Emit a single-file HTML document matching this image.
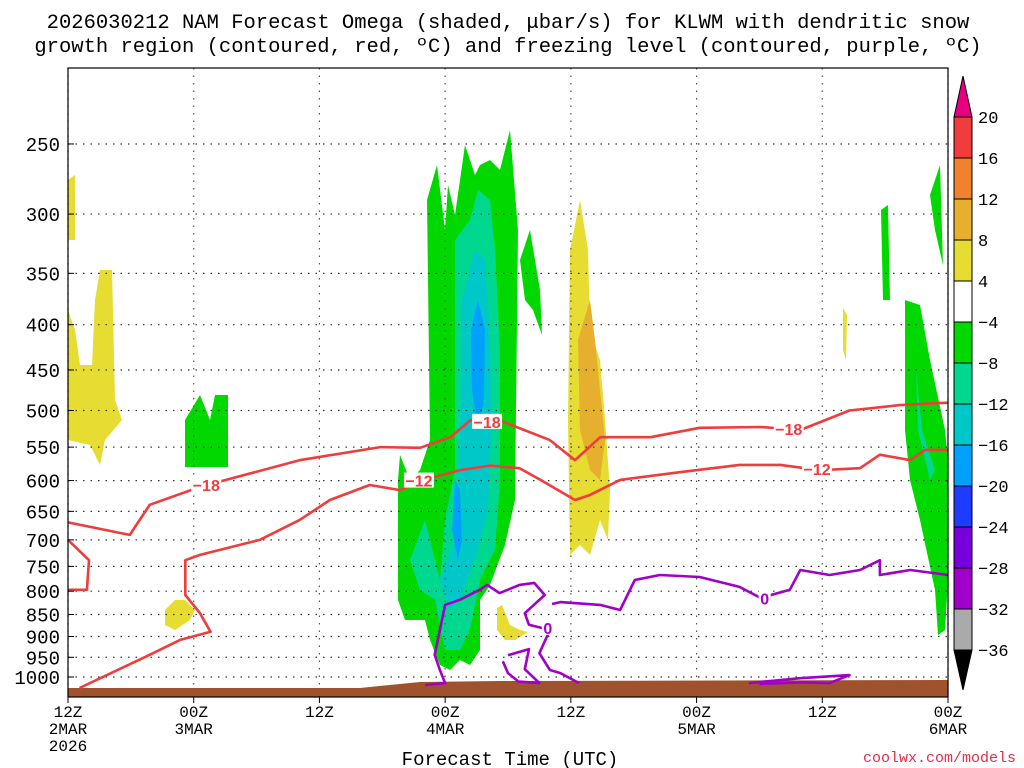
<!DOCTYPE html>
<html><head><meta charset="utf-8"><style>
body{margin:0;background:#fff;}
svg{display:block;font-family:"Liberation Sans","DejaVu Sans",sans-serif;}
</style></head><body>
<svg id="c" width="1024" height="768" viewBox="0 0 1024 768">
<g font-family="Liberation Mono, monospace" font-size="20.5" text-anchor="middle" fill="#000">
<text x="508" y="28">2026030212 NAM Forecast Omega (shaded, μbar/s) for KLWM with dendritic snow</text>
<text x="508" y="52">growth region (contoured, red, ºC) and freezing level (contoured, purple, ºC)</text>
</g>
<g id="shade">
<polygon fill="#00d800" points="400,455 410,480 420,470 430,440 427,200 437,165 445,230 448,185 455,215 465,145 475,175 480,165 490,160 500,170 510,130 518,230 515,500 505,545 490,585 480,600 480,650 470,665 460,660 450,670 440,665 430,640 425,620 405,620 398,600 398,480"/>
<polygon fill="#00d800" points="520,260 530,230 540,290 542,335 533,310 525,300"/>
<polygon fill="#00d800" points="185,420 200,395 210,420 215,395 228,395 228,467 185,467 185,440"/>
<polygon fill="#00d800" points="905,300 920,305 930,360 945,430 948,460 948,580 945,630 938,635 935,590 920,520 910,480 905,430"/>
<polygon fill="#00d800" points="881,210 888,205 890,300 883,300"/>
<polygon fill="#00d800" points="930,195 940,165 943,265 935,230"/>
<polygon fill="#00d890" points="440,580 445,520 455,470 455,240 470,220 478,190 490,200 495,250 500,350 500,480 495,550 480,580 470,630 460,650 445,650 435,600 420,590 410,560 425,520"/>
<polygon fill="#00d890" points="916,370 922,430 935,470 930,480 918,430"/>
<polygon fill="#00c8c8" points="455,540 460,440 462,300 475,250 485,260 490,330 492,420 488,510 475,560 460,600 450,610 440,580"/>
<polygon fill="#00a0ff" points="471,330 478,300 485,330 484,400 478,430 472,390"/>
<polygon fill="#00a0ff" points="455,480 460,490 462,540 458,560 452,530"/>
<polygon fill="#e6dc32" points="68,180 75,175 75,240 68,240"/>
<polygon fill="#e6dc32" points="68,310 75,330 80,365 92,365 95,300 100,270 112,270 115,400 122,420 105,440 100,465 90,445 68,440"/>
<polygon fill="#e6dc32" points="570,250 580,200 588,250 590,330 600,360 605,420 610,490 608,540 600,520 590,555 580,545 570,555 568,420"/>
<polygon fill="#e6af2d" points="590,300 595,340 600,390 605,440 600,480 590,470 580,430 578,340"/>
<polygon fill="#e6dc32" points="165,610 175,600 185,600 195,610 190,620 175,630 165,625"/>
<polygon fill="#e6dc32" points="497,608 502,605 510,625 520,630 528,632 515,640 505,640 497,630"/>
<polygon fill="#e6dc32" points="843,308 847,315 846,360 843,350"/>
</g>
<g id="grid"></g>
<polygon fill="#a0522d" points="68,688 360,688 420,682 500,681 948,680 948,697 68,697"/>
<g id="lines"></g>
<rect x="68" y="68" width="880" height="629" fill="none" stroke="#000" stroke-width="1.2"/>
<g id="axes"></g>
<g id="cbar"></g>
<text x="510" y="765" font-size="19" text-anchor="middle" font-family="Liberation Mono, monospace">Forecast Time (UTC)</text>
<text x="1016" y="762" font-size="15" text-anchor="end" fill="#e0304a" font-family="Liberation Mono, monospace">coolwx.com/models</text>
</svg>
<script>
const pressureTicks=[250,300,350,400,450,500,550,600,650,700,750,800,850,900,950,1000];
const timeTickHours=[0,12,24,36,48,60,72,84];
const timeTickLabels=[["12Z","2MAR","2026"],["00Z","3MAR"],["12Z"],["00Z","4MAR"],["12Z"],["00Z","5MAR"],["12Z"],["00Z","6MAR"]];
const cbarLevels=[20,16,12,8,4,-4,-8,-12,-16,-20,-24,-28,-32,-36];
const cbarColors=["#f03c3c","#f0822d","#e6af2d","#e6dc32","#ffffff","#00d800","#00d890","#00c8c8","#00a0ff","#1e3cff","#7800dc","#a000c8","#aaaaaa"];
// contour lines [hour, hPa]
const redUpper=[[0,669],[5.9,691],[7.8,639],[12.6,610],[22.1,569],[29.8,550],[33.6,551],[36.5,536],[38.4,513],[41.2,513],[46,540],[48.4,569],[50.8,536],[55.6,536],[60.3,523],[66.1,522],[69.9,526],[74.6,500],[79.4,493],[84,490]];
const redLower=[[1.1,1029],[7.8,944],[10.7,908],[13.6,889],[12.6,847],[11.2,808],[11.2,738],[12.6,728],[18.3,700],[22.1,665],[25,631],[28.8,607],[31.7,615],[34.6,596],[37.4,584],[40.3,577],[43.1,581],[45.1,599],[48.4,631],[49.8,623],[52.7,599],[58.4,587],[64.1,576],[68,576],[71.8,584],[75.6,581],[77.5,561],[80.4,569],[81.8,554],[84,554]];
const redSmall=[[0,700],[2,738],[1.8,797],[0,797]];
const purpleA=[[34.1,1021],[36,1016],[35.5,982],[35,944],[35.5,885],[36,829],[37.4,818],[39.3,797],[40,787],[41.2,804],[43.1,787],[44.5,783],[45.5,808],[43.6,847],[44,873],[46,885],[45,940],[46,982],[47,990],[48.8,1016]];
const purpleB=[[46.2,827],[47,823],[50.8,829],[52.7,840],[54.1,777],[56.5,767],[60.3,771],[64.1,791],[66.1,814],[68.9,797],[69.9,757],[72.7,767],[75.6,757],[77.5,738],[77.5,767],[80.4,757],[84,767]];
const purpleC=[[42,945],[44,930],[43.6,980],[45,1016],[43,1012],[42,990],[41.5,960]];
const purpleD=[[65,1016],[69.9,1003],[74.6,995],[72.7,1016],[70,1014],[66,1018]];
const labels=[{t:"−18",h:13.2,p:607,c:"#f03c3c"},{t:"−18",h:40,p:515,c:"#f03c3c"},{t:"−18",h:68.8,p:525,c:"#f03c3c"},{t:"−12",h:33.5,p:600,c:"#f03c3c"},{t:"−12",h:71.5,p:582,c:"#f03c3c"},{t:"0",h:45.8,p:880,c:"#a000c8"},{t:"0",h:66.5,p:815,c:"#a000c8"}];

const X0=68,X1=948,Hmax=84;
function xs(h){return X0+h*(X1-X0)/Hmax;}
function ys(p){return 677-384.5*Math.log(1000/p);}
const NS="http://www.w3.org/2000/svg";
function mk(tag,parent,attrs){const e=document.createElementNS(NS,tag);for(const k in attrs)e.setAttribute(k,attrs[k]);parent.appendChild(e);return e;}

const grid=document.getElementById('grid'),axes=document.getElementById('axes'),lines=document.getElementById('lines'),cbar=document.getElementById('cbar');
pressureTicks.forEach(p=>{
  const g=mk('line',grid,{x1:X0,x2:X1,y1:ys(p),y2:ys(p),stroke:"#333","stroke-width":1.2,"stroke-dasharray":"1.5,6"});
  
  
  const t=mk('text',axes,{x:60,y:ys(p)+7,"font-size":19,"text-anchor":"end","font-family":"Liberation Mono, monospace"});
  t.textContent=p;
  
  
  mk('line',axes,{x1:X0,x2:X0+6,y1:ys(p),y2:ys(p),stroke:"#000"});
});
timeTickHours.forEach((h,i)=>{
  const g=mk('line',grid,{x1:xs(h),x2:xs(h),y1:68,y2:697,stroke:"#555","stroke-width":1.2,"stroke-dasharray":"1.5,6"});
  
  
  mk('line',axes,{x1:xs(h),x2:xs(h),y1:697,y2:703,stroke:"#000"});
  timeTickLabels[i].forEach((s,j)=>{
    const t=mk('text',axes,{x:xs(h),y:717+j*17,"font-size":16,"text-anchor":"middle","font-family":"Liberation Mono, monospace"});
    t.textContent=s;
    
    
  });
});
function drawLine(pts,color,name){
  const d=pts.map((q,i)=>(i?'L':'M')+xs(q[0]).toFixed(1)+','+ys(q[1]).toFixed(1)).join(' ');
  const e=mk('path',lines,{d:d,fill:"none",stroke:color,"stroke-width":2.6,"stroke-linejoin":"round"});
  
  
}
drawLine(redUpper,"#f03c3c","contour-minus18");
drawLine(redLower,"#f03c3c","contour-minus12");
drawLine(redSmall,"#f03c3c","contour-minus12-small");
drawLine(purpleA,"#a000c8","freezing-level-a");
drawLine(purpleB,"#a000c8","freezing-level-b");
drawLine(purpleC,"#a000c8","freezing-level-c");
drawLine(purpleD,"#a000c8","freezing-level-d");
labels.forEach(l=>{
  const w=l.t.length>1?30:12;
  const bg=mk('rect',lines,{x:xs(l.h)-w/2,y:ys(l.p)-8,width:w,height:15,fill:"#fff"});
  
  
  const t=mk('text',lines,{x:xs(l.h),y:ys(l.p)+6,"font-size":16,"font-weight":"bold","text-anchor":"middle",fill:l.c});
  t.textContent=l.t;
  
  
});
// colorbar
const cbX=954,cbW=18,cbTop=117,cbStep=(650-117)/13;
cbarColors.forEach((c,i)=>{
  const r=mk('rect',cbar,{x:cbX,y:cbTop+i*cbStep,width:cbW,height:cbStep,fill:c,stroke:"#000","stroke-width":1});
  
  
});
mk('polygon',cbar,{points:`${cbX},${cbTop} ${cbX+cbW},${cbTop} ${cbX+cbW/2},76`,fill:"#e6007f",stroke:"#000"});
mk('polygon',cbar,{points:`${cbX},650 ${cbX+cbW},650 ${cbX+cbW/2},690`,fill:"#000",stroke:"#000"});
cbarLevels.forEach((v,i)=>{
  const t=mk('text',cbar,{x:978,y:cbTop+i*cbStep+6,"font-size":17,"font-family":"Liberation Mono, monospace"});
  t.textContent=v<0?"−"+(-v):String(v);
  
  
});
</script>
</body></html>
